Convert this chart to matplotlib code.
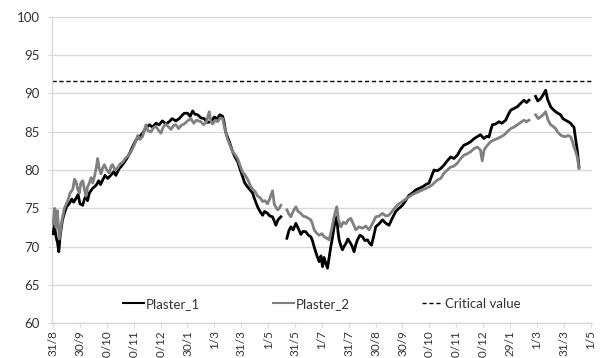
import numpy as np
import matplotlib
matplotlib.use('Agg')
import matplotlib.pyplot as plt

plt.rcParams['font.family'] = ['Lato', 'DejaVu Sans']

nan = np.nan

# 날짜축 (31/8 기준 일수)
tick_days = list(range(0, 601, 30))
tick_labels = ['31/8', '30/9', '30/10', '30/11', '30/12', '30/1', '1/3', '31/3', '1/5', '31/5', '1/7',
               '31/7', '30/8', '30/9', '30/10', '30/11', '30/12', '29/1', '1/3', '31/3', '1/5']

critical_value = 91.6

# Plaster_1
p1_days = [0, 1.5, 3.3, 5, 6.4, 8, 8.9, 10.5, 12.6, 15, 18.2, 21, 23, 25.6, 28, 30, 33.1, 35, 36.8, 38.5,
           40.5, 44, 48, 51, 53, 55.4, 58, 61, 64.7, 68, 70, 73.9, 77, 80, 83.3, 86, 89, 92.6, 96, 100,
           103, 107.4, 111, 115, 118.5, 122, 126, 129.7, 133, 137, 140.8, 143, 146.4, 150.2, 153, 155.8, 158, 161.4, 165, 168.7,
           172, 176.2, 180, 183.7, 186, 189.3, 191, 192.5, 194.8, 197, 200.4, 203, 206, 209, 211.6, 214, 217.1, 220, 222.7, 225,
           228.3, 231, 233.9, 236, 239.4, 242, 245, 247, 248.7, 251, 254.3, 257.5, 261, 263, 265.4, 268, 271, 274, 276.6, 279,
           282.1, 285, 287.7, 289.5, 291.4, 294, 297, 299, 300.8, 302.5, 304.5, 306.3, 308, 310, 312, 313.7, 315, 316.7, 318, 319.3,
           321, 323, 325, 326.8, 329, 332.3, 334, 336, 338, 339.8, 342.5, 345.4, 348, 351, 353, 355.4, 357.5, 360.2, 364, 367.7,
           371, 375, 379, 382.5, 386, 390, 394, 397.3, 401, 404.8, 408.5, 412.3, 416, 419.7, 422.5, 425.2, 429, 432.7, 436.4, 440,
           443.9, 447.5, 451.3, 455, 458.7, 462, 466.2, 470, 473.6, 477, 481, 484, 486.6, 488.5, 490.4, 494, 497.7, 501, 505.2, 508,
           510.8, 514, 518.2, 522, 525.6, 528.5, 531.2, 534.5, 538.6, 541, 544.2, 547, 549.8, 552, 555.4, 558, 560.9, 563.5, 566.5, 569,
           572.1, 575, 577.7, 579.5, 581.4, 583.3, 585.1, 587]
p1_vals = [71.7, 72.8, 71.3, 70.5, 69.35, 71.5, 72.2, 73.5, 74.35, 75.2, 75.65, 76.2, 75.8, 76.3, 76.8, 75.6, 75.4, 76.2, 76.6, 76.0,
           77.0, 77.6, 78.0, 78.6, 78.1, 78.7, 79.3, 78.9, 79.35, 79.8, 79.3, 80.2, 80.6, 81.1, 81.7, 82.3, 83.1, 83.9, 84.3, 84.8,
           85.4, 85.9, 85.6, 86.1, 85.9, 86.4, 86.0, 86.3, 86.7, 86.4, 86.7, 87.0, 87.4, 87.4, 87.0, 87.7, 87.3, 87.2, 86.8, 86.7,
           86.2, 86.3, 86.9, 86.7, 87.2, 87.0, 86.2, 85.0, 84.3, 83.6, 82.4, 81.7, 81.1, 80.0, 79.1, 78.3, 77.8, 77.4, 77.0, 76.2,
           75.2, 74.6, 74.1, 74.6, 74.35, 74.0, 73.9, 73.3, 72.8, 73.5, 73.9, nan, 71.1, 72.0, 72.6, 72.2, 73.05, 72.3, 71.6, 72.0,
           71.95, 71.5, 71.3, 70.8, 70.0, 69.0, 68.05, 68.8, 67.4, 68.6, 67.8, 67.2, 68.5, 70.0, 71.3, 72.6, 73.3, 73.9, 72.0, 70.9,
           70.2, 69.6, 70.1, 70.4, 71.0, 70.4, 70.0, 69.35, 70.3, 70.9, 71.5, 71.3, 70.8, 70.9, 70.5, 70.2, 71.2, 72.6, 73.0, 73.5,
           73.1, 72.8, 73.8, 74.6, 75.0, 75.4, 76.1, 76.7, 77.0, 77.4, 77.6, 77.8, 78.1, 78.3, 79.2, 80.0, 79.9, 80.2, 80.65, 81.2,
           81.7, 81.5, 81.95, 82.7, 83.25, 83.4, 83.7, 84.1, 84.35, 84.6, 84.1, 84.4, 84.3, 85.2, 85.9, 86.0, 86.3, 86.1, 86.5, 87.2,
           87.8, 88.0, 88.25, 88.7, 89.1, 88.8, 89.1, nan, 89.6, 89.0, 89.3, 89.8, 90.4, 89.2, 88.25, 87.9, 87.6, 87.4, 87.2, 86.7,
           86.5, 86.3, 86.1, 85.8, 85.6, 84.0, 82.6, 80.4]

# Plaster_2
p2_days = [0, 1.9, 3.3, 4.8, 7, 8.5, 10, 12.6, 14.5, 16.4, 19, 22, 24, 25.6, 27.5, 29.3, 31, 33.1, 35, 36.8,
           38.5, 40.5, 42.5, 44.3, 46.5, 48.5, 49.8, 51.5, 53.5, 55.5, 57.2, 60, 62.8, 64.8, 66.6, 69, 72.2, 75, 77.7, 80.5,
           83.3, 86, 88.9, 91.5, 94.5, 97, 100, 102, 103.7, 106, 109.3, 112, 114.9, 117.5, 120.4, 123, 126, 129, 131.6, 134.5,
           137.2, 140, 142.7, 146.4, 150, 153.9, 157, 160, 165, 168, 171, 174.3, 176, 178.1, 181, 183.7, 186.5, 189.3, 191.5, 194.8,
           197.5, 200.4, 203, 206, 209, 211.6, 214, 217.1, 220, 222.7, 225.5, 228.3, 231, 233.9, 236.5, 239.4, 242, 245, 247, 250.6,
           252.5, 254.3, 257.5, 261, 263, 265.4, 268, 271, 273.5, 276.6, 279, 282.1, 285, 287.7, 289.5, 291.4, 294, 297, 300, 302.6,
           305.5, 308.1, 311, 313.7, 315.2, 316.7, 318.5, 321.2, 324, 326.8, 329.5, 332.3, 335, 337.9, 341.5, 345.4, 349, 352.7, 356, 360.2,
           364, 367.7, 371.5, 375, 379, 382.5, 386, 390, 393.5, 397.3, 401, 404.8, 408.5, 412.3, 416, 419.7, 422.5, 425.2, 429, 432.7,
           436.4, 440, 443.9, 447.5, 451.3, 455, 458.7, 462, 466.2, 470, 473.6, 477, 479, 481, 484.5, 488.4, 492, 495.9, 499.5, 503.3,
           507, 510.8, 514.5, 518.2, 522, 525.6, 528.5, 531.2, 534.5, 538.6, 541.5, 544.2, 547, 549.8, 552.5, 555.4, 558, 560.9, 563.5, 566.5,
           569, 572.1, 575, 577.7, 579.5, 581.4, 583.3, 585.1, 587]
p2_vals = [73.0, 75.0, 72.5, 74.7, 71.0, 72.3, 73.5, 75.0, 75.5, 76.0, 77.0, 77.5, 78.8, 78.5, 77.5, 77.0, 78.3, 78.6, 77.5, 76.6,
           77.8, 78.3, 79.0, 78.3, 79.3, 80.5, 81.5, 80.2, 79.5, 80.3, 80.7, 80.0, 79.6, 80.5, 80.7, 80.0, 80.3, 80.8, 81.0, 81.5,
           81.8, 82.2, 82.8, 83.5, 84.5, 84.0, 84.4, 85.2, 85.9, 85.1, 85.0, 85.5, 85.7, 85.2, 84.8, 85.6, 86.0, 85.6, 85.3, 85.8,
           85.9, 85.4, 85.8, 86.0, 86.4, 86.7, 86.1, 86.5, 86.3, 85.9, 86.2, 87.6, 86.4, 86.0, 86.5, 86.3, 86.8, 86.7, 85.5, 84.0,
           83.2, 82.4, 82.0, 81.5, 80.5, 79.7, 79.4, 78.8, 78.0, 77.5, 77.2, 76.6, 76.4, 75.9, 76.0, 75.6, 76.3, 77.3, 75.5, 74.8,
           75.0, 75.4, nan, 74.8, 74.3, 73.9, 74.6, 75.2, 74.6, 74.35, 74.0, 73.9, 73.7, 73.5, 73.0, 72.2, 71.8, 71.5, 71.7, 71.3,
           71.1, 70.9, 72.3, 73.9, 74.6, 75.2, 73.5, 72.6, 73.2, 73.0, 73.5, 73.7, 73.0, 72.2, 72.6, 72.4, 72.7, 72.2, 72.9, 73.9,
           74.0, 74.35, 74.0, 74.1, 74.7, 75.2, 75.6, 75.9, 76.2, 76.5, 76.8, 77.0, 77.2, 77.4, 77.6, 77.8, 78.0, 78.3, 78.7, 78.9,
           79.6, 80.0, 80.4, 80.5, 80.9, 81.5, 81.95, 82.1, 82.4, 82.8, 83.0, 82.6, 81.2, 82.6, 83.2, 83.7, 83.9, 84.1, 84.3, 84.55,
           85.0, 85.4, 85.6, 85.9, 86.2, 86.5, 86.3, 86.5, nan, 87.2, 86.7, 86.95, 87.2, 87.6, 86.5, 85.9, 85.7, 85.4, 84.9, 84.55,
           84.4, 84.35, 84.5, 84.35, 83.8, 83.0, 82.4, 81.7, 80.2]

GRID = '#d9d9d9'
TEXT = '#333333'

fig = plt.figure(figsize=(6.03, 3.58), dpi=100)
ax = fig.add_axes([0.0862, 0.0966, 0.8955, 0.857])

ax.plot(p1_days, p1_vals, color='black', lw=2.0, label='Plaster_1', zorder=3)
ax.plot(p2_days, p2_vals, color='#808080', lw=2.0, label='Plaster_2', zorder=4)
ax.axhline(critical_value, color='black', lw=1.0, ls=(0, (3, 2)), label='Critical value', zorder=2)

ax.set_ylim(60, 100)
ax.set_yticks(range(60, 101, 5))
ax.set_xlim(-1.2, 601.5)
ax.set_xticks(tick_days)
ax.set_xticklabels(tick_labels, rotation=90, va='top', ha='center')

ax.grid(axis='y', color=GRID, lw=1.0)
ax.set_axisbelow(True)
for s in ['top', 'right']:
    ax.spines[s].set_visible(False)
for s in ['left', 'bottom']:
    ax.spines[s].set_color(GRID)
    ax.spines[s].set_linewidth(1.0)

ax.tick_params(axis='y', length=3, color=GRID, pad=6, labelsize=9.5, labelcolor=TEXT)
ax.tick_params(axis='x', length=3, color=GRID, pad=2, labelsize=8.5, labelcolor=TEXT)

# 범례 (플롯 하단 안쪽)
leg = ax.legend(loc='center', bbox_to_anchor=(0.5, 1 - 304 / 358), bbox_transform=fig.transFigure,
                ncol=3, frameon=False, fontsize=9.5, handlelength=1.6, handletextpad=0.15,
                columnspacing=5.5, labelcolor=TEXT)
leg.get_lines()[0].set_linewidth(1.5)
leg.get_lines()[1].set_linewidth(1.5)
ax.get_legend().set_bbox_to_anchor((322 / 603, 1 - 304 / 358), transform=fig.transFigure)

fig.savefig('out.png', dpi=100)
